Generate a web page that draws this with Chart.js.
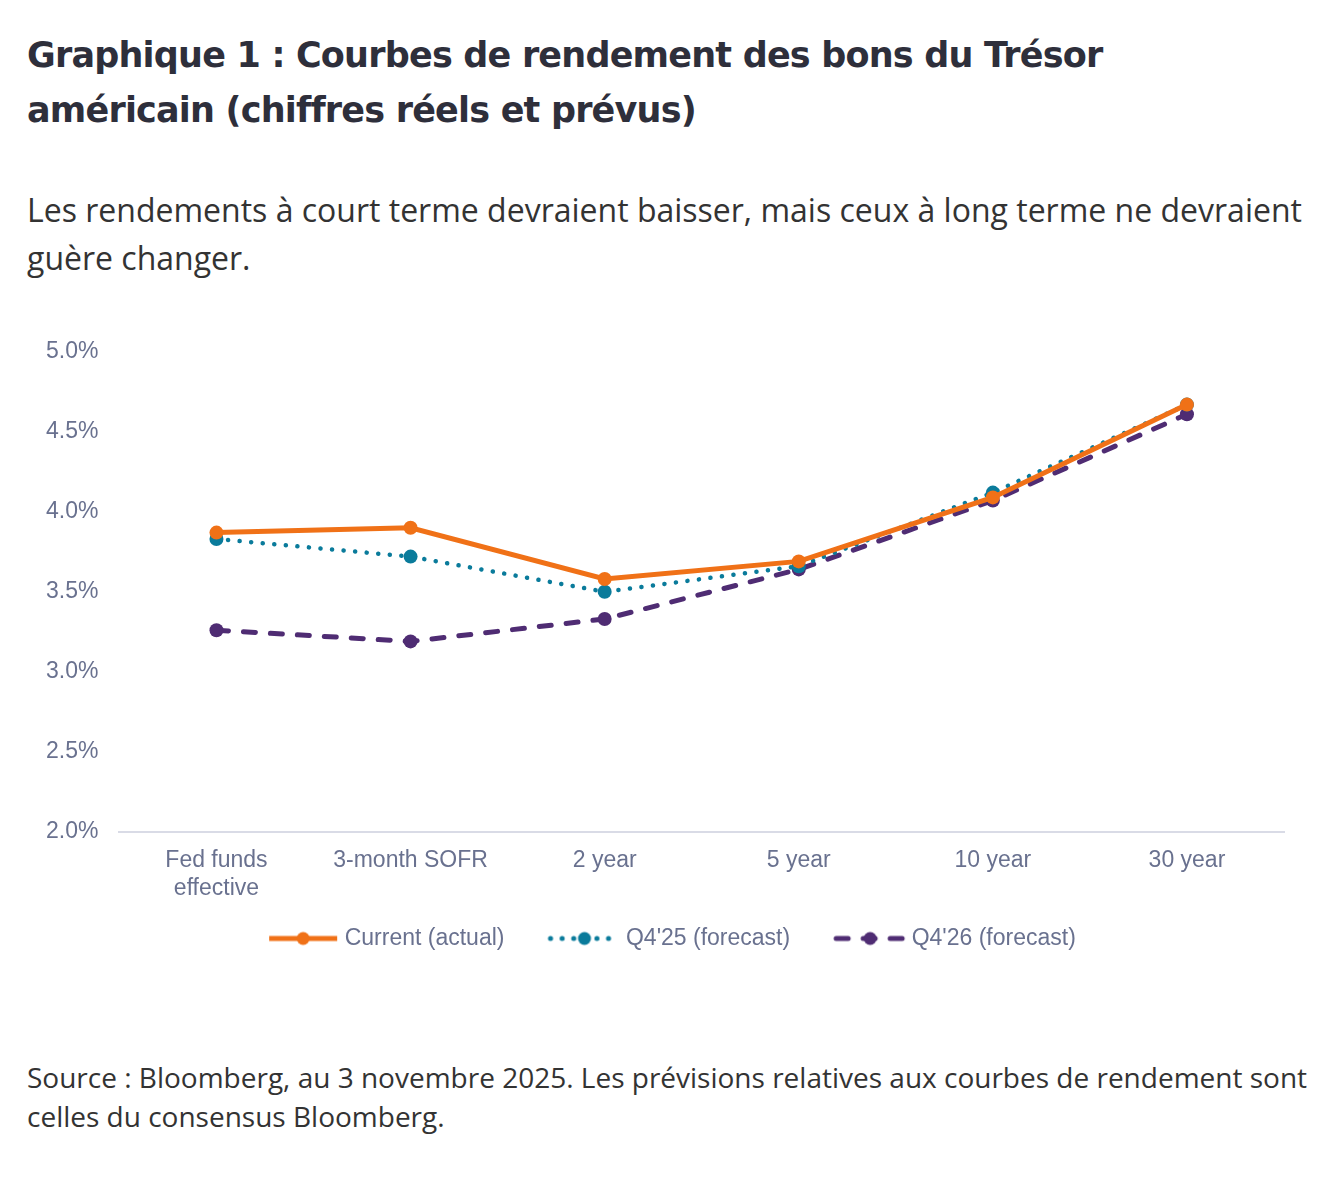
<!DOCTYPE html>
<html><head><meta charset="utf-8">
<script src="https://cdn.jsdelivr.net/npm/chart.js@4"></script>
<style>
html,body{margin:0;padding:0;background:#fff;width:1340px;height:1192px;overflow:hidden;}
#title{position:absolute;left:27px;top:28px;width:1310px;font-family:"DejaVu Sans",sans-serif;font-weight:bold;font-size:35px;line-height:55px;color:#2e2f3b;letter-spacing:-0.8px;margin:0;}
#sub{position:absolute;left:27px;top:186px;width:1300px;font-family:"Open Sans",sans-serif;font-size:32px;line-height:48px;color:#333;margin:0;}
#src{position:absolute;left:27px;top:1058px;width:1300px;font-family:"Open Sans",sans-serif;font-size:28px;line-height:39px;color:#333;margin:0;}
#wrap{position:absolute;left:0;top:317px;width:1340px;height:643px;}
</style></head><body>
<h1 id="title">Graphique 1 : Courbes de rendement des bons du Trésor<br>américain (chiffres réels et prévus)</h1>
<p id="sub">Les rendements à court terme devraient baisser, mais ceux à long terme ne devraient guère changer.</p>
<div id="wrap"><canvas id="c"></canvas></div>
<p id="src">Source : Bloomberg, au 3 novembre 2025. Les prévisions relatives aux courbes de rendement sont celles du consensus Bloomberg.</p>
<script>
const categories = [["Fed funds","effective"], "3-month SOFR", "2 year", "5 year", "10 year", "30 year"];
const currentActual = [3.87, 3.90, 3.58, 3.69, 4.09, 4.67];
const q425Forecast = [3.83, 3.72, 3.50, 3.66, 4.12, 4.67];
const q426Forecast = [3.26, 3.19, 3.33, 3.64, 4.07, 4.61];
const seriesNames = ["Current (actual)", "Q4'25 (forecast)", "Q4'26 (forecast)"];
const yTicks = [2.0, 2.5, 3.0, 3.5, 4.0, 4.5, 5.0];

const ORANGE = '#f07117', TEAL = '#0a7b9b', PURPLE = '#4f2c73';
const tickColor = '#69718f';
const FONT = '"Liberation Sans", Arial, sans-serif';

function legendImg(color, dash, width, cap) {
  const cv = document.createElement('canvas');
  cv.width = 114; cv.height = 20;
  const g = cv.getContext('2d');
  g.strokeStyle = color; g.lineWidth = width; g.lineCap = cap;
  g.setLineDash(dash);
  g.beginPath(); g.moveTo(43, 10); g.lineTo(111, 10); g.stroke();
  g.setLineDash([]);
  g.fillStyle = color; g.beginPath(); g.arc(77, 10, 6.5, 0, Math.PI*2); g.fill();
  return cv;
}
const legendImgs = [
  legendImg(ORANGE, [], 5, 'butt'),
  legendImg(TEAL, [0.1, 11.5], 5, 'round'),
  legendImg(PURPLE, [12, 15], 5, 'round')
];

new Chart(document.getElementById('c'), {
  type: 'line',
  data: {
    labels: categories,
    datasets: [
      {label: seriesNames[0], data: currentActual, borderColor: ORANGE, backgroundColor: ORANGE, borderWidth: 5, pointRadius: 7, pointHoverRadius: 7, pointBorderWidth: 0, tension: 0},
      {label: seriesNames[1], data: q425Forecast, borderColor: TEAL, backgroundColor: TEAL, borderWidth: 4.5, borderDash: [0.1, 11.5], borderCapStyle: 'round', pointRadius: 7, pointBorderWidth: 0, tension: 0},
      {label: seriesNames[2], data: q426Forecast, borderColor: PURPLE, backgroundColor: PURPLE, borderWidth: 5, borderDash: [12, 15], borderCapStyle: 'round', pointRadius: 7, pointBorderWidth: 0, tension: 0}
    ]
  },
  options: {
    responsive: true, maintainAspectRatio: false, animation: false,
    layout: {padding: {left: 25, right: 56, top: 14, bottom: 0}},
    plugins: {
      tooltip: {enabled: false},
      legend: {
        position: 'bottom',
        labels: {
          usePointStyle: true, pointStyleWidth: 100, padding: 10,
          color: tickColor, font: {family: FONT, size: 23},
          generateLabels: (chart) => chart.data.datasets.map((d, i) => ({
            text: d.label, pointStyle: legendImgs[i], fillStyle: d.borderColor, strokeStyle: d.borderColor,
            lineWidth: 0, hidden: false, datasetIndex: i, fontColor: tickColor
          }))
        }
      }
    },
    scales: {
      x: {
        offset: true,
        grid: {display: false, drawTicks: false},
        border: {display: true, color: '#d9dbe6', width: 2},
        ticks: {color: tickColor, font: {family: FONT, size: 23}, padding: 15, maxRotation: 0, autoSkip: false}
      },
      y: {
        min: 2, max: 5,
        afterBuildTicks: (axis) => { axis.ticks = yTicks.map(v => ({value: v})); },
        grid: {display: false, drawTicks: false},
        border: {display: false},
        ticks: {color: tickColor, font: {family: FONT, size: 23}, padding: 21, callback: (v) => Number(v).toFixed(1) + '%'}
      }
    }
  }
});
</script>
</body></html>
